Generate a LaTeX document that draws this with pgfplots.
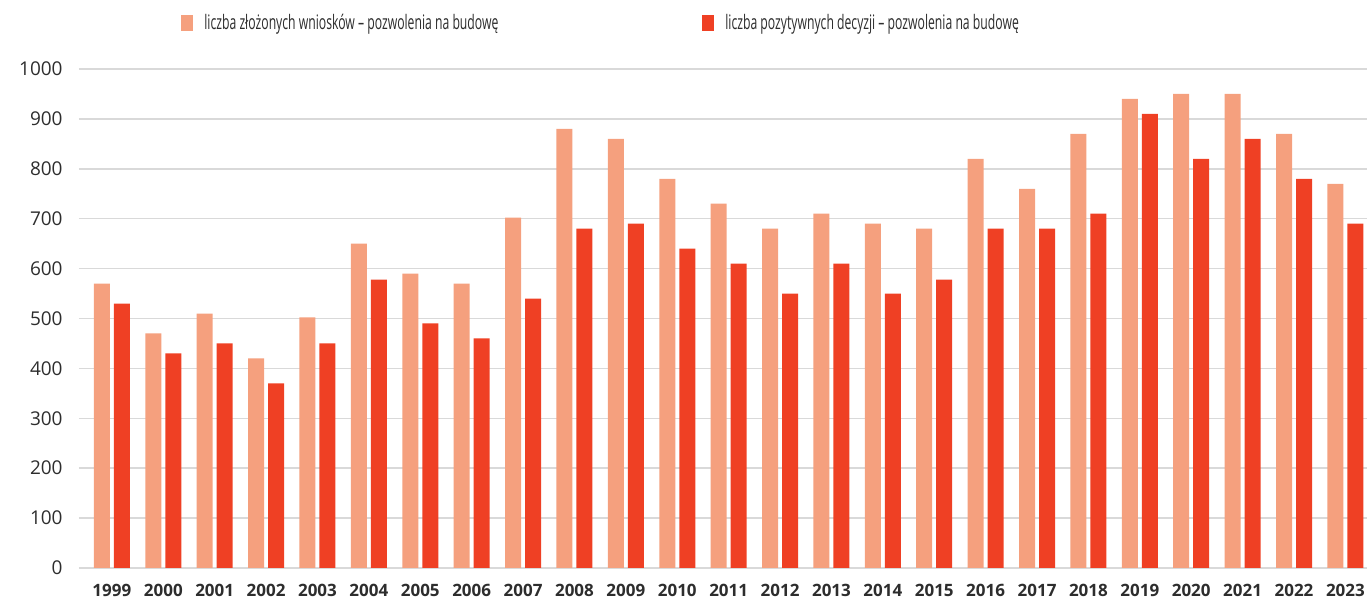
\documentclass[border=0pt]{standalone}
\usepackage{fontspec}
\setmainfont{Open Sans}
\newfontfamily\legfont{Open Sans}[FakeStretch=0.61]
\usepackage{pgfplots}
\usepackage{pgfplotstable}
\pgfplotsset{compat=1.18}
\definecolor{lightbar}{RGB}{245,160,126}
\definecolor{darkbar}{RGB}{239,64,36}
\definecolor{gridgray}{RGB}{217,217,217}
\definecolor{txt}{RGB}{45,45,45}

\pgfplotstableread{
x year wnioski decyzje
0  1999 570 530
1  2000 470 430
2  2001 510 450
3  2002 420 370
4  2003 502 450
5  2004 650 578
6  2005 590 490
7  2006 570 460
8  2007 702 540
9  2008 880 680
10 2009 860 690
11 2010 780 640
12 2011 730 610
13 2012 680 550
14 2013 710 610
15 2014 690 550
16 2015 680 578
17 2016 820 680
18 2017 760 680
19 2018 870 710
20 2019 940 910
21 2020 950 820
22 2021 950 860
23 2022 870 780
24 2023 770 690
}\data

\begin{document}
\begin{tikzpicture}
\begin{axis}[
    scale only axis,
    width=644pt, height=249.5pt,
    ybar=2pt, bar width=8pt,
    xmin=-0.64, xmax=24.42,
    ymin=0, ymax=1000,
    ytick={0,100,...,1000},
    xtick=data,
    xticklabels from table={\data}{year},
    major tick length=0pt,
    axis line style={draw=none},
    ymajorgrids,
    grid style={gridgray, line width=0.75pt},
    /pgf/number format/assume math mode=true,
    /pgf/number format/1000 sep={},
    yticklabel style={font=\fontsize{9.5}{11}\selectfont, text=txt, inner sep=0pt, anchor=east, xshift=-8pt},
    xticklabel style={font=\bfseries\fontsize{8.5}{10}\selectfont, text=txt, inner sep=0pt, anchor=north, yshift=-8pt},
    legend columns=2,
    legend style={
      draw=none, fill=none, inner sep=0pt,
      at={(0.0792,1)}, anchor=west, yshift=23pt,
      nodes={inner sep=2pt, text=txt, font=\legfont\fontsize{10}{12}\selectfont},
      /tikz/every even column/.append style={column sep=100pt},
    },
    legend image code/.code={\fill[#1] (0pt,-4pt) rectangle (6pt,4pt); \path (9.5pt,0pt);},
  ]
  \addplot[fill=lightbar, draw=none] table[x=x, y=wnioski]{\data};
  \addplot[fill=darkbar, draw=none] table[x=x, y=decyzje]{\data};
  \legend{liczba złożonych wniosków – pozwolenia na budowę, liczba pozytywnych decyzji – pozwolenia na budowę}
  \coordinate (bl) at (rel axis cs:0,0);
  \coordinate (tr) at (rel axis cs:1,1);
\end{axis}
\pgfresetboundingbox
\path[use as bounding box] ([shift={(-39.5pt,-15pt)}]bl) rectangle ([shift={(0pt,34.5pt)}]tr);
\end{tikzpicture}
\end{document}
